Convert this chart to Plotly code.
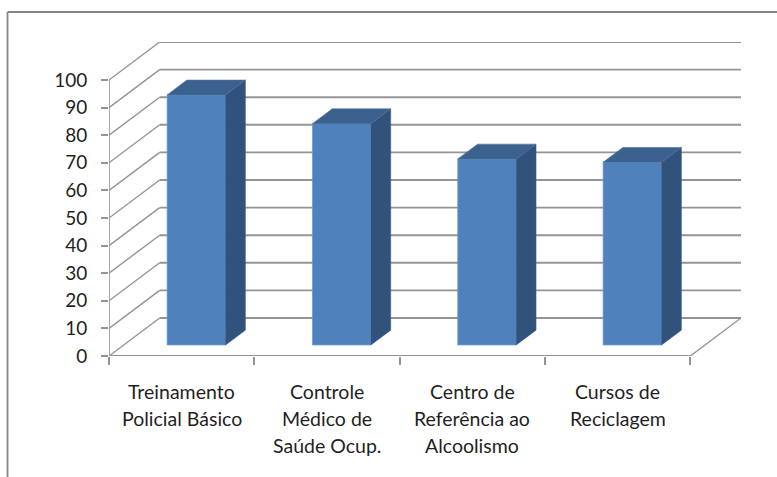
import plotly.graph_objects as go

categories = [
    ["Treinamento", "Policial Básico"],
    ["Controle", "Médico de", "Saúde Ocup."],
    ["Centro de", "Referência ao", "Alcoolismo"],
    ["Cursos de", "Reciclagem"],
]
values = [90.6, 80.2, 67.4, 66.2]
y_ticks = [0, 10, 20, 30, 40, 50, 60, 70, 80, 90, 100]

W, H = 777, 477
LEFT, RIGHT_FRONT, RIGHT_BACK = 108.5, 690.0, 740.7
TOP_BACK, BOTTOM = 42.0, 356.0
TOP_FRONT = 80.0
ux = (RIGHT_FRONT - LEFT) / len(categories)
uy = (BOTTOM - TOP_FRONT) / 100
wall_dx = (RIGHT_BACK - RIGHT_FRONT) / ux
wall_dy = (TOP_FRONT - TOP_BACK) / uy
n = len(categories)

bar_w = 58.5 / ux
front_d = 0.29
back_d = 0.68


def proj(x, y, d):
    return x + d * wall_dx, y + d * wall_dy


GRID = "#949494"
shapes = []
def seg(p, q, width=1.9, color=GRID):
    shapes.append(dict(type="line", xref="x", yref="y", x0=p[0], y0=p[1], x1=q[0], y1=q[1],
                       layer="below", line=dict(color=color, width=width)))

for v in y_ticks:
    seg((0, v), proj(0, v, 1), width=1.4)
    seg(proj(0, v, 1), proj(n, v, 1))
seg((0, 0), (0, 100), width=1.6)
seg((0, 0), (n, 0))
seg((n, 0), proj(n, 0, 1), width=1.4)

# outer frame: top and left edges only
py = BOTTOM - TOP_BACK
pw = RIGHT_BACK - LEFT
shapes.append(dict(type="line", xref="paper", yref="paper",
                   x0=(7 - LEFT) / pw, x1=(W - LEFT) / pw,
                   y0=(BOTTOM - 12) / py, y1=(BOTTOM - 12) / py, line=dict(color="#868686", width=1.8)))
shapes.append(dict(type="line", xref="paper", yref="paper",
                   x0=(7 - LEFT) / pw, x1=(7 - LEFT) / pw,
                   y0=(BOTTOM - 12) / py, y1=(BOTTOM - H) / py, line=dict(color="#868686", width=1.8)))

fig = go.Figure()
centers = [i + 0.5 for i in range(n)]
bar_x = [proj(c, 0, front_d)[0] for c in centers]
bar_base = proj(0, 0, front_d)[1]

fig.add_trace(go.Bar(x=bar_x, y=values, base=[bar_base] * n, width=bar_w,
                     marker=dict(color="#4F81BD", line=dict(color="#6f9ad0", width=0.8)),
                     hoverinfo="skip", showlegend=False))

for bx, v in zip(bar_x, values):
    l, r = bx - bar_w / 2, bx + bar_w / 2
    b, t = bar_base, bar_base + v
    dd = back_d - front_d
    ddx, ddy = dd * wall_dx, dd * wall_dy
    fig.add_trace(go.Scatter(x=[r, r + ddx, r + ddx, r, r], y=[b, b + ddy, t + ddy, t, b],
                             fill="toself", fillcolor="#31527A", mode="lines",
                             line=dict(color="#3d5f8a", width=0.6), hoverinfo="skip", showlegend=False))
    fig.add_trace(go.Scatter(x=[l, l + ddx, r + ddx, r, l], y=[t, t + ddy, t + ddy, t, t],
                             fill="toself", fillcolor="#3B618F", mode="lines",
                             line=dict(color="#4a70a0", width=0.6), hoverinfo="skip", showlegend=False))

annotations = []
for c, lines in zip(centers, categories):
    for j, text in enumerate(lines):
        annotations.append(dict(x=c, y=0, xref="x", yref="y", text=text, showarrow=False,
                                yshift=-(35 + 27 * j), xanchor="center", yanchor="middle",
                                font=dict(family="Lato", size=19.5, color="#1f1f1f")))

fig.update_layout(
    width=W, height=H,
    margin=dict(l=LEFT, r=W - RIGHT_BACK, t=TOP_BACK, b=H - BOTTOM, pad=0, autoexpand=False),
    paper_bgcolor="white", plot_bgcolor="white",
    shapes=shapes, annotations=annotations, showlegend=False,
    xaxis=dict(range=[0, n + wall_dx], tickmode="array", tickvals=list(range(n + 1)),
               ticktext=[""] * (n + 1), ticks="outside", ticklen=8, tickwidth=1.6, tickcolor=GRID,
               showgrid=False, zeroline=False, showline=False),
    yaxis=dict(range=[0, 100 + wall_dy], tickmode="array", tickvals=y_ticks, ticks="outside",
               ticklen=7, tickwidth=1.6, tickcolor=GRID, showgrid=False, zeroline=False, showline=False,
               ticklabelstandoff=10,
               tickfont=dict(family="Lato", size=19, color="#1f1f1f")),
)

fig.write_html("out.html", post_script="document.body.style.margin='0';",
               config={"displayModeBar": False})
